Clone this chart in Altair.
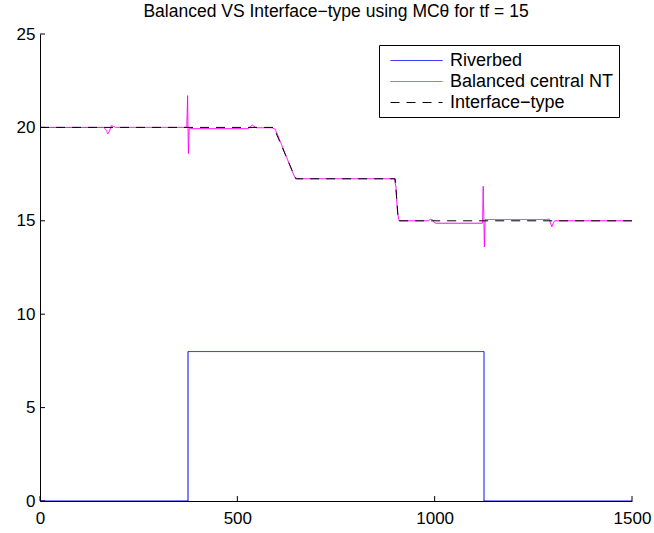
import altair as alt
import pandas as pd

# Riverbed step profile
riverbed_x = [0, 375, 375, 1125, 1125, 1500]
riverbed_y = [0, 0, 8, 8, 0, 0]

# Balanced central NT numerical free surface
nt_x = [0, 162, 168, 172, 176, 181, 186, 192,
        372, 374, 376, 378,
        528, 533, 538, 543, 548,
        588, 596, 603, 640, 646, 652,
        898, 902, 906, 910,
        984, 989, 994, 999, 1004,
        1121, 1123, 1126, 1128,
        1284, 1290, 1294, 1297, 1300, 1304, 1500]
nt_y = [20, 20, 19.85, 19.65, 19.8, 20.1, 20.05, 20,
        20, 21.7, 18.6, 19.93,
        19.93, 20.05, 20.12, 20.05, 19.98,
        19.98, 19.9, 19.55, 17.6, 17.32, 17.25,
        17.25, 16.8, 15.4, 15.0,
        15.0, 15.08, 15.06, 14.9, 14.87,
        14.87, 16.85, 13.6, 15.07,
        15.07, 15.1, 14.85, 14.68, 14.85, 15.0, 15.0]

# Interface-type reference solution
iface_x = [0, 592, 648, 900, 908, 1500]
iface_y = [20, 20, 17.25, 17.25, 15, 15]

series_names = ["Riverbed", "Balanced central NT", "Interface\u2212type"]
series_colors = ["#0000ff", "#ff00ff", "#000000"]
series_dashes = [[1, 0], [1, 0], [9, 7]]

x_ticks = [0, 500, 1000, 1500]
y_ticks = [0, 5, 10, 15, 20, 25]

title_text = "Balanced VS Interface\u2212type using MC\u03b8 for tf = 15"

FONT = "Liberation Sans"
W, H = 592, 467


def frame(xs, ys, name):
    return pd.DataFrame({"x": xs, "y": ys, "series": name, "i": list(range(len(xs)))})


lines_df = pd.concat([
    frame(riverbed_x, riverbed_y, series_names[0]),
    frame(nt_x, nt_y, series_names[1]),
    frame(iface_x, iface_y, series_names[2]),
], ignore_index=True)

x_scale = alt.Scale(domain=[0, 1500], nice=False, zero=False)
y_scale = alt.Scale(domain=[0, 25], nice=False, zero=False)

x_axis = alt.Axis(values=x_ticks, format="d", ticks=False, tickSize=0, grid=False, title=None,
                  labelFont=FONT, labelFontSize=17, labelColor="black",
                  labelPadding=9, labelFlush=False, domainColor="black",
                  labelAngle=0)
y_axis = alt.Axis(values=y_ticks, format="d", ticks=False, tickSize=0, grid=False, title=None,
                  labelFont=FONT, labelFontSize=17, labelColor="black",
                  labelPadding=5, labelFlush=False, domainColor="black")

# legend line sample: a long horizontal stroke inside a compact 20px symbol cell
legend = alt.Legend(title=None, orient="none", legendX=339, legendY=11,
                    symbolType="M-2.6,0H2.6", symbolSize=400, symbolStrokeWidth=1,
                    symbolOffset=22, symbolFillColor="transparent",
                    labelFont=FONT, labelFontSize=18, labelColor="black",
                    labelOffset=23, labelLimit=400, padding=5, rowPadding=1,
                    strokeColor="black", fillColor="white")

color = alt.Color("series:N", sort=series_names,
                  scale=alt.Scale(domain=series_names, range=series_colors),
                  legend=legend)
dash = alt.StrokeDash("series:N", sort=series_names,
                      scale=alt.Scale(domain=series_names, range=series_dashes),
                      legend=legend)


def series_layer(name):
    return (
        alt.Chart(lines_df)
        .transform_filter(alt.datum.series == name)
        .mark_line(strokeWidth=1, clip=True)
        .encode(
            x=alt.X("x:Q", scale=x_scale, axis=x_axis),
            y=alt.Y("y:Q", scale=y_scale, axis=y_axis),
            color=color,
            strokeDash=dash,
            order=alt.Order("i:Q"),
        )
    )


# inward-pointing tick marks
x_tick_layer = (
    alt.Chart(pd.DataFrame({"v": x_ticks}))
    .mark_rule(color="black", strokeWidth=1)
    .encode(x=alt.X("v:Q", scale=x_scale, axis=x_axis),
            y=alt.value(H), y2=alt.value(H - 5))
)
y_tick_layer = (
    alt.Chart(pd.DataFrame({"v": y_ticks}))
    .mark_rule(color="black", strokeWidth=1)
    .encode(y=alt.Y("v:Q", scale=y_scale, axis=y_axis),
            x=alt.value(0), x2=alt.value(5))
)

chart = (
    alt.layer(
        series_layer(series_names[0]),
        series_layer(series_names[1]),
        series_layer(series_names[2]),
        x_tick_layer,
        y_tick_layer,
    )
    .properties(
        width=W, height=H,
        title=alt.TitleParams(title_text, font=FONT, fontSize=17.5, fontWeight="normal",
                              color="black", anchor="middle", offset=5),
        autosize=alt.AutoSizeParams(type="none"),
        padding={"left": 40, "top": 34, "right": 22, "bottom": 32},
        background="white",
    )
    .configure_view(stroke=None)
)

chart.save("out.html", embed_options={"renderer": "svg", "actions": False})
